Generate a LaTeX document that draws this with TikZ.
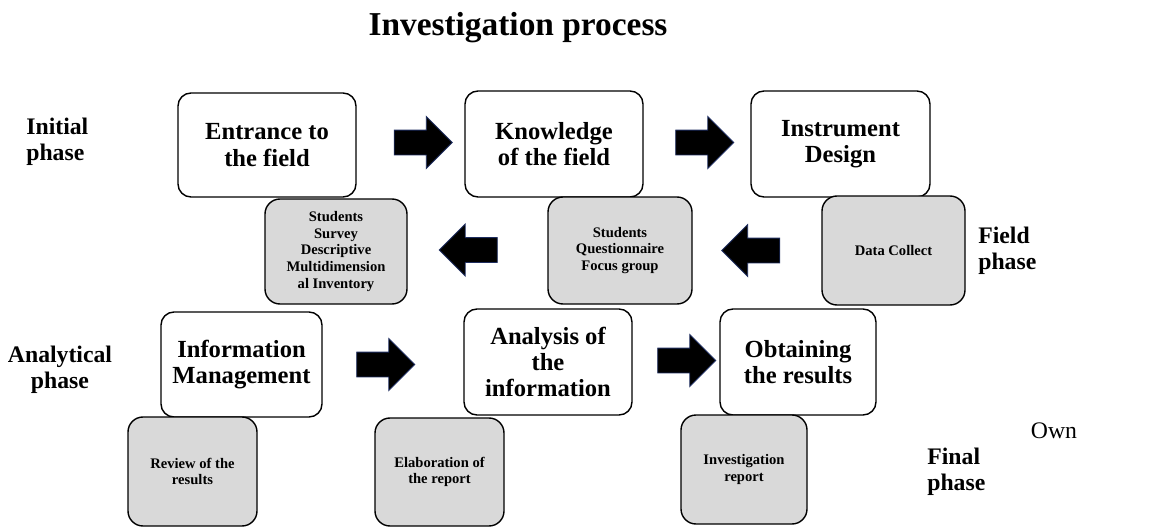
\documentclass[tikz,border=0pt]{standalone}
\usepackage{fontspec}
\setmainfont{Liberation Serif}
\usepackage{xcolor}
\usetikzlibrary{shapes.arrows}
\definecolor{boxgray}{RGB}{217,217,217}
\definecolor{arrowedge}{RGB}{30,45,95}

\begin{document}
\begin{tikzpicture}[
    phasebox/.style={rectangle,
          draw,
          line width = 0.8pt,
          rounded corners = 0.26cm,
          fill = white,
          inner sep = 0pt,
          align = center,
          font = \bfseries\fontsize{14}{15}\selectfont},
    toolbox/.style={rectangle,
          draw,
          line width = 0.8pt,
          rounded corners = 0.3cm,
          fill = boxgray,
          inner sep = 0pt,
          align = center,
          font = \bfseries\fontsize{8.3}{9.5}\selectfont},
    blockarrow/.style={single arrow,
          draw = arrowedge,
          fill = black,
          line width = 0.5pt,
          minimum height = 1.16cm,
          single arrow head extend = 0.27cm,
          inner xsep = 0pt,
          inner ysep = 0.24cm,
          text height = 0pt,
          text depth = 0pt,
          text width = 0pt},
    phaselabel/.style={font = \bfseries\fontsize{13.5}{15}\selectfont,
          inner sep = 0pt}
    ]

    \useasboundingbox (0,0) rectangle (23.18,-10.54);

    % title and phase labels
    \node[font = \bfseries\fontsize{19}{22}\selectfont] (title) at (10.36,-0.56) {Investigation process};
    \node[phaselabel, anchor = west, align = left] (initial) at (0.52,-2.83) {Initial\\phase};
    \node[phaselabel, anchor = west, align = left] (field) at (19.56,-5.02) {Field\\phase};
    \node[phaselabel, align = center] (analytical) at (1.20,-7.40) {Analytical\\phase};
    \node[phaselabel, anchor = west, align = left] (final) at (18.54,-9.44) {Final\\phase};
    \node[font = \fontsize{13.5}{15}\selectfont] (own) at (21.08,-8.62) {Own};

    % initial phase
    \node[phasebox, minimum width = 3.56cm, minimum height = 2.08cm] (entr) at (5.34,-2.90) {Entrance to\\the field};
    \node[phasebox, minimum width = 3.56cm, minimum height = 2.12cm] (know) at (11.08,-2.88) {Knowledge\\of the field};
    \node[phasebox, minimum width = 3.58cm, minimum height = 2.12cm] (instr) at (16.81,-2.88) {Instrument\\Design};

    % field phase
    \node[toolbox, minimum width = 2.84cm, minimum height = 2.10cm] (surv) at (6.72,-5.03) {Students\\Survey\\Descriptive\\Multidimension\\al Inventory};
    \node[toolbox, minimum width = 2.88cm, minimum height = 2.14cm] (quest) at (12.40,-5.01) {Students\\Questionnaire\\Focus group};
    \node[toolbox, minimum width = 2.86cm, minimum height = 2.18cm] (data) at (17.87,-5.01) {Data Collect};

    % analytical phase
    \node[phasebox, minimum width = 3.22cm, minimum height = 2.10cm] (info) at (4.83,-7.29) {Information\\Management};
    \node[phasebox, minimum width = 3.36cm, minimum height = 2.12cm] (anal) at (10.96,-7.24) {Analysis of\\the\\information};
    \node[phasebox, minimum width = 3.12cm, minimum height = 2.12cm] (obt) at (15.96,-7.24) {Obtaining\\the results};

    % final phase
    \node[toolbox, minimum width = 2.58cm, minimum height = 2.18cm] (rev) at (3.85,-9.43) {Review of the\\results};
    \node[toolbox, minimum width = 2.58cm, minimum height = 2.16cm] (elab) at (8.79,-9.44) {Elaboration of\\the report};
    \node[toolbox, minimum width = 2.52cm, minimum height = 2.18cm] (invr) at (14.88,-9.39) {Investigation\\report};

    % block arrows
    \node[blockarrow] (entr-know) at (8.34,-2.85) {};
    \node[blockarrow] (know-instr) at (13.97,-2.85) {};
    \node[blockarrow, shape border rotate = 180] (quest-surv) at (9.49,-5.00) {};
    \node[blockarrow, shape border rotate = 180] (data-quest) at (15.14,-5.01) {};
    \node[blockarrow] (info-anal) at (7.59,-7.29) {};
    \node[blockarrow] (anal-obt) at (13.61,-7.21) {};

\end{tikzpicture}
\end{document}
